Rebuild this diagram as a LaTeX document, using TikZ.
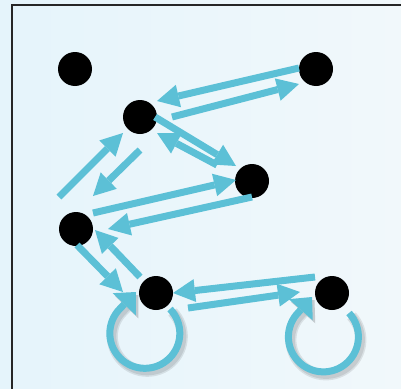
\documentclass[tikz,border=0pt]{standalone}
\usetikzlibrary{arrows.meta}
\definecolor{edgecyan}{RGB}{92,192,214}
\definecolor{bgleft}{RGB}{229,244,251}
\definecolor{bgright}{RGB}{241,248,251}
\begin{document}
\begin{tikzpicture}[x=1pt,y=-1pt,
  vertex/.style={circle,fill=black,minimum size=34pt,inner sep=0pt},
  link/.style={draw=edgecyan,line width=7pt,
    -{Triangle[length=22pt,width=23pt,line width=0pt]}},
  selfloop/.style={draw=edgecyan,line width=7pt,
    -{Triangle[length=17pt,width=32pt,line width=0pt]}},
  loopshadow/.style={draw=black,line width=#1,opacity=0.09,
    -{Triangle[length=17pt,width=32pt,line width=0pt]},
    transform canvas={xshift=2.5pt,yshift=-3pt}}]
\useasboundingbox (0,0) rectangle (401,388);
\clip (0,0) rectangle (401,388);
% backdrop and frame
\shade[left color=bgleft,right color=bgright] (0,0) rectangle (401,388);
\draw[line width=1.6pt,black!85] (12,5) rectangle (430,420);

% vertices
\node[vertex] (A) at (75,69) {};
\node[vertex] (B) at (140,117) {};
\node[vertex] (C) at (316,69) {};
\node[vertex] (D) at (252,181) {};
\node[vertex] (E) at (76,229) {};
\node[vertex] (F) at (156,293) {};
\node[vertex] (G) at (332,293) {};

% directed edges
\draw[link] ([shift={(-17,-1)}]C.center) -- ([shift={(17,-16)}]B.center);
\draw[link] ([shift={(32,0)}]B.center) -- ([shift={(-17,15)}]C.center);
\draw[link] ([shift={(15,0)}]B.center) -- ([shift={(-16,-15)}]D.center);
\draw[link] ([shift={(-35,-16)}]D.center) -- ([shift={(17,16)}]B.center);
\draw[link] ([shift={(-17,-32)}]E.center) -- ([shift={(-17,16)}]B.center);
\draw[link] ([shift={(0,33)}]B.center) -- ([shift={(17,-33)}]E.center);
\draw[link] ([shift={(17,-16)}]E.center) -- ([shift={(-16,-1)}]D.center);
\draw[link] ([shift={(0,16)}]D.center) -- ([shift={(32,0)}]E.center);
\draw[link] ([shift={(1,16)}]E.center) -- ([shift={(-33,-1)}]F.center);
\draw[link] ([shift={(-16,-16)}]F.center) -- ([shift={(19,1)}]E.center);
\draw[link] ([shift={(-17,-16)}]G.center) -- ([shift={(17,0)}]F.center);
\draw[link] ([shift={(32,15)}]F.center) -- ([shift={(-32,-1)}]G.center);

% self loops, with a soft shadow underneath
\foreach \w in {11pt,8pt}{
  \draw[loopshadow=\w] ([shift={(14,16)}]F.center)
    arc[start angle=44,end angle=-225,radius=35pt] -- ([shift={(-20,-1)}]F.center);
  \draw[loopshadow=\w] ([shift={(17,20)}]G.center)
    arc[start angle=43,end angle=-225,radius=35pt] -- ([shift={(-20,4)}]G.center);
}
\draw[selfloop] ([shift={(14,16)}]F.center)
  arc[start angle=44,end angle=-225,radius=35pt] -- ([shift={(-20,-1)}]F.center);
\draw[selfloop] ([shift={(17,20)}]G.center)
  arc[start angle=43,end angle=-225,radius=35pt] -- ([shift={(-20,4)}]G.center);
\end{tikzpicture}
\end{document}
